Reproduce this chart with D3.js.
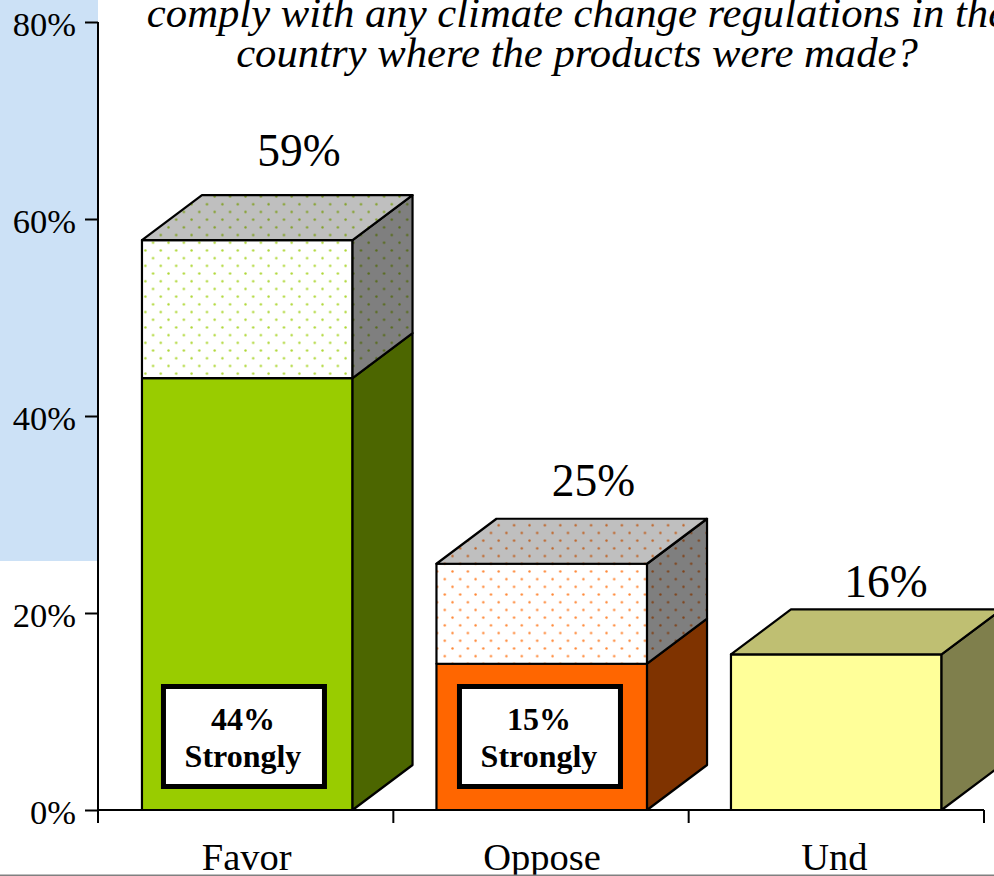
<!DOCTYPE html>
<html lang="en">
    <head>
        <meta charset="utf-8">
        <title>Climate change regulations</title>
        <script src="https://d3js.org/d3.v7.min.js"></script>
        <style type="text/css">
            html, body { margin: 0; padding: 0; background: #fff; overflow: hidden; }
            svg { display: block; }
            text { font-family: "Liberation Serif", serif; fill: #000; }
        </style>
    </head>
    <body>
        <script>
            // data
            var categories = ["Favor", "Oppose", "Und"];
            var totals = [57.85, 25, 15.8];
            var strongly = [43.85, 14.85, 0];
            var totalLabels = ["59%", "25%", "16%"];
            var stronglyLabels = ["44%", "15%", ""];
            var yTicks = [0, 20, 40, 60, 80];
            var titleLines = [
                "comply with any climate change regulations in the",
                "country where the products were made?"
            ];
            var baseColors = ["#99cc00", "#ff6600", "#ffff99"];

            // configuration code
            var outerWidth = 994;
            var outerHeight = 876;
            var depthX = 60;
            var depthY = 45;
            var labelGaps = [29, 23, 12];
            var labelShifts = [157, 157, 155];
            var noteShifts = [0, 1.5, 0];
            var categoryShifts = [1, 1, -2];
            var dotPhases = [[5.3, 2.6], [4.4, 0.2], [0, 0]];

            var svg = d3.select("body")
                        .append("svg")
                        .attr("width", outerWidth)
                        .attr("height", outerHeight);

            var xScale = d3.scaleBand().domain(categories).range([98, 984]).paddingInner(0.29).paddingOuter(0.145);
            var barScale = d3.scaleBand().domain(categories).range([100, 983.5]).paddingInner(0.285).paddingOuter(0.1425);
            var yScale = d3.scaleLinear().domain([0, 80]).range([810, 22]);

            // light blue panel behind the y axis
            svg.append("rect")
                .attr("width", 98).attr("height", 561)
                .attr("fill", "#cce1f6");

            // dotted fill for the "somewhat" part of each bar
            var defs = svg.append("defs");
            baseColors.forEach(function (color, i) {
                var pattern = defs.append("pattern")
                    .attr("id", "dots" + i)
                    .attr("patternUnits", "userSpaceOnUse")
                    .attr("width", 15.4).attr("height", 15.4)
                    .attr("patternTransform", "translate(" + dotPhases[i][0] + "," + dotPhases[i][1] + ")");
                pattern.append("rect").attr("width", 15.4).attr("height", 15.4).attr("fill", "#fff");
                pattern.append("circle").attr("cx", 1.5).attr("cy", 1.5).attr("r", 1.2).attr("fill", color).attr("fill-opacity", 0.8);
                pattern.append("circle").attr("cx", 9.2).attr("cy", 9.2).attr("r", 1.2).attr("fill", color).attr("fill-opacity", 0.8);
            });

            function poly(points) {
                return points.map(function (p) { return p.join(","); }).join(" ");
            }

            // draws one face, then a black overlay to shade it
            function face(g, points, fill, shade) {
                g.append("polygon").attr("points", poly(points)).attr("fill", fill);
                g.append("polygon").attr("points", poly(points))
                    .attr("fill", "#000").attr("fill-opacity", shade)
                    .attr("stroke", "#000").attr("stroke-width", 2.2)
                    .attr("stroke-linejoin", "round");
            }

            function segment(g, x0, x1, yLow, yHigh, fill, withTop) {
                face(g, [[x0, yLow], [x1, yLow], [x1, yHigh], [x0, yHigh]], fill, 0);
                face(g, [[x1, yLow], [x1 + depthX, yLow - depthY], [x1 + depthX, yHigh - depthY], [x1, yHigh]], fill, 0.5);
                if (withTop) {
                    face(g, [[x0, yHigh], [x1, yHigh], [x1 + depthX, yHigh - depthY], [x0 + depthX, yHigh - depthY]], fill, 0.25);
                }
            }

            categories.forEach(function (c, i) {
                var g = svg.append("g");
                var x0 = barScale(c);
                var x1 = x0 + barScale.bandwidth();
                var lower = strongly[i] > 0 ? strongly[i] : totals[i];

                segment(g, x0, x1, yScale(0), yScale(lower), baseColors[i], strongly[i] === 0);
                if (strongly[i] > 0) {
                    segment(g, x0, x1, yScale(strongly[i]), yScale(totals[i]), "url(#dots" + i + ")", true);

                    // boxed "strongly" note
                    g.append("rect")
                        .attr("x", x0 + 21.5 + noteShifts[i]).attr("y", 686.5)
                        .attr("width", 161).attr("height", 100)
                        .attr("fill", "#fff").attr("stroke", "#000").attr("stroke-width", 5);
                    g.append("text")
                        .attr("x", x0 + 101 + noteShifts[i]).attr("y", 730)
                        .attr("text-anchor", "middle")
                        .style("font-size", "32px").style("font-weight", "bold")
                        .text(stronglyLabels[i]);
                    g.append("text")
                        .attr("x", x0 + 101 + noteShifts[i]).attr("y", 767)
                        .attr("text-anchor", "middle")
                        .style("font-size", "32px").style("font-weight", "bold")
                        .text("Strongly");
                }

                g.append("text")
                    .attr("x", x0 + labelShifts[i])
                    .attr("y", yScale(totals[i]) - depthY - labelGaps[i])
                    .attr("text-anchor", "middle")
                    .style("font-size", "45.5px")
                    .text(totalLabels[i]);
            });

            // axes
            var yAxis = svg.append("g")
                .attr("transform", "translate(98,0)")
                .call(d3.axisLeft(yScale).tickValues(yTicks).tickSize(13).tickPadding(9)
                    .tickFormat(function (d) { return d + "%"; }));
            yAxis.select(".domain").attr("stroke", "#000").attr("stroke-width", 2).attr("d", "M0,22V823");
            yAxis.selectAll(".tick line").attr("stroke", "#000").attr("stroke-width", 2);
            yAxis.selectAll("text")
                .attr("y", 2)
                .style("font-family", '"Liberation Serif", serif').style("font-size", "34.5px");

            var xAxis = svg.append("g")
                .attr("transform", "translate(0,810)")
                .call(d3.axisBottom(xScale).tickSize(0).tickPadding(33));
            xAxis.select(".domain").attr("stroke", "#000").attr("stroke-width", 2).attr("d", "M98,0H984");
            xAxis.selectAll(".tick text")
                .attr("x", function (d, i) { return categoryShifts[i]; })
                .style("font-family", '"Liberation Serif", serif').style("font-size", "38.5px");

            // tick marks sit between the categories, not on them
            xAxis.selectAll(".boundary")
                .data(d3.range(categories.length + 1))
                .enter().append("line")
                .attr("class", "boundary")
                .attr("x1", function (d) { return 98 + d * xScale.step(); })
                .attr("x2", function (d) { return 98 + d * xScale.step(); })
                .attr("y1", 0).attr("y2", 13)
                .attr("stroke", "#000").attr("stroke-width", 2);

            // title, cut off by the top and right of the image
            svg.selectAll(".title")
                .data(titleLines)
                .enter().append("text")
                .attr("class", "title")
                .attr("x", 577)
                .attr("y", function (d, i) { return 27 + i * 40; })
                .attr("text-anchor", "middle")
                .style("font-size", "42.7px").style("font-style", "italic")
                .text(function (d) { return d; });

            // grey rule along the bottom edge
            svg.append("rect")
                .attr("y", 874.5).attr("width", outerWidth).attr("height", 1.5)
                .attr("fill", "#808080");
        </script>
    </body>
</html>
